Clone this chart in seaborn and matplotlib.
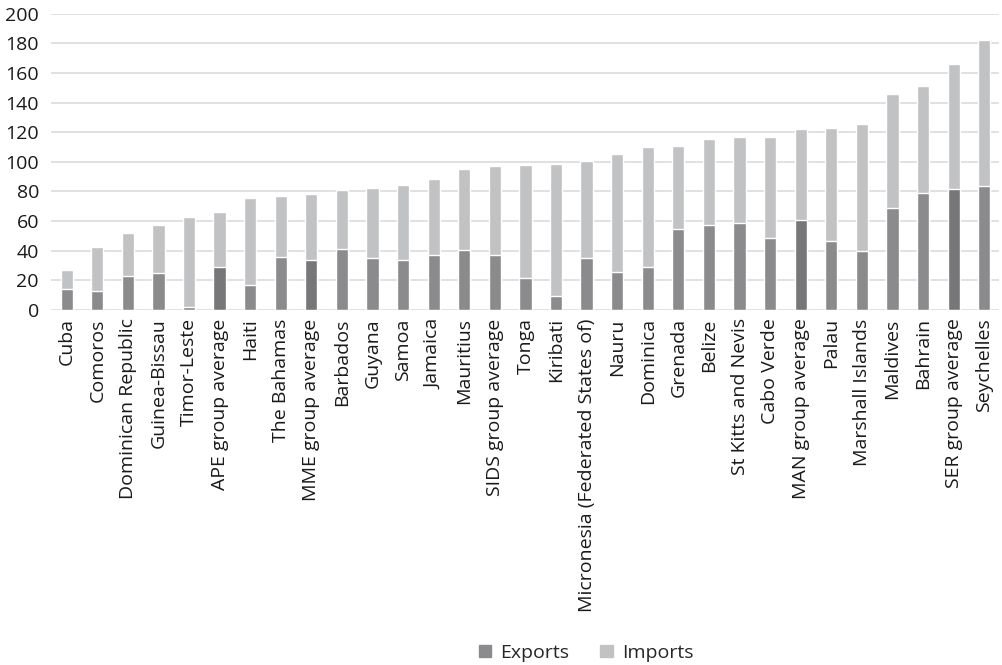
import matplotlib
matplotlib.use("Agg")
import matplotlib.pyplot as plt
from matplotlib.patches import Patch
import seaborn as sns
import pandas as pd

countries = [
    "Cuba", "Comoros", "Dominican Republic", "Guinea-Bissau", "Timor-Leste",
    "APE group average", "Haiti", "The Bahamas", "MME group average", "Barbados",
    "Guyana", "Samoa", "Jamaica", "Mauritius", "SIDS group average", "Tonga",
    "Kiribati", "Micronesia (Federated States of)", "Nauru", "Dominica", "Grenada",
    "Belize", "St Kitts and Nevis", "Cabo Verde", "MAN group average", "Palau",
    "Marshall Islands", "Maldives", "Bahrain", "SER group average", "Seychelles",
]
exports = [
    14.2, 12.8, 23.0, 25.0, 2.2, 29.0, 16.7, 35.8, 34.0, 41.0,
    35.3, 34.0, 37.4, 40.5, 37.4, 21.6, 9.2, 35.3, 25.6, 29.3,
    54.7, 57.4, 58.7, 48.8, 60.7, 46.8, 40.0, 69.0, 79.2, 81.7, 83.7,
]
imports = [
    12.6, 29.9, 28.8, 32.4, 60.4, 37.1, 58.7, 41.4, 44.3, 39.8,
    47.0, 50.4, 51.2, 54.5, 59.8, 76.5, 89.1, 65.3, 79.7, 80.5,
    56.0, 58.3, 57.9, 68.2, 61.5, 76.3, 85.3, 76.8, 72.0, 84.3, 98.6,
]
# group averages (except SIDS) are shaded darker
highlight = ["APE group average", "MME group average", "MAN group average", "SER group average"]

EXP_COLOR = "#8b8b8d"
EXP_DARK = "#77777a"
IMP_COLOR = "#c1c2c4"

df = pd.DataFrame({"country": countries, "exports": exports, "imports": imports})
df["total"] = df["exports"] + df["imports"]
df["kind"] = ["avg" if c in highlight else "country" for c in df["country"]]

sns.set_theme(style="white")
plt.rcParams["font.family"] = ["Open Sans", "DejaVu Sans"]

fig = plt.figure(figsize=(10.02, 6.65), dpi=100)
ax = fig.add_axes([0.0513, 0.5338, 0.9462, 0.4456])

# imports stacked on exports: full-height bar first, exports drawn over it
sns.barplot(data=df, x="country", y="total", color=IMP_COLOR, width=0.4,
            saturation=1, ax=ax, zorder=2)
sns.barplot(data=df, x="country", y="exports", hue="kind", dodge=False,
            palette={"country": EXP_COLOR, "avg": EXP_DARK}, width=0.4,
            saturation=1, legend=False, ax=ax, zorder=3)

ax.set_ylim(0, 200)
ax.set_xlim(-0.5, len(countries) - 0.5)
ax.set_yticks(range(0, 201, 20))
ax.yaxis.grid(True, color="#d9d9d9", linewidth=1.1, zorder=0)
ax.set_axisbelow(True)
for s in ax.spines.values():
    s.set_visible(False)
ax.set_xlabel("")
ax.set_ylabel("")
ax.tick_params(axis="both", length=0, labelsize=14, colors="#1a1a1a")
ax.tick_params(axis="y", pad=9)
ax.tick_params(axis="x", pad=6)
plt.setp(ax.get_xticklabels(), rotation=90, ha="center", va="top")

handles = [Patch(color=EXP_COLOR, label="Exports"), Patch(color=IMP_COLOR, label="Imports")]
fig.legend(handles=handles, loc="center", bbox_to_anchor=(0.585, 0.018), ncol=2,
           frameon=False, fontsize=14, handlelength=0.62, handleheight=0.62,
           columnspacing=1.6, handletextpad=0.5)

fig.savefig("out.png", dpi=100)
